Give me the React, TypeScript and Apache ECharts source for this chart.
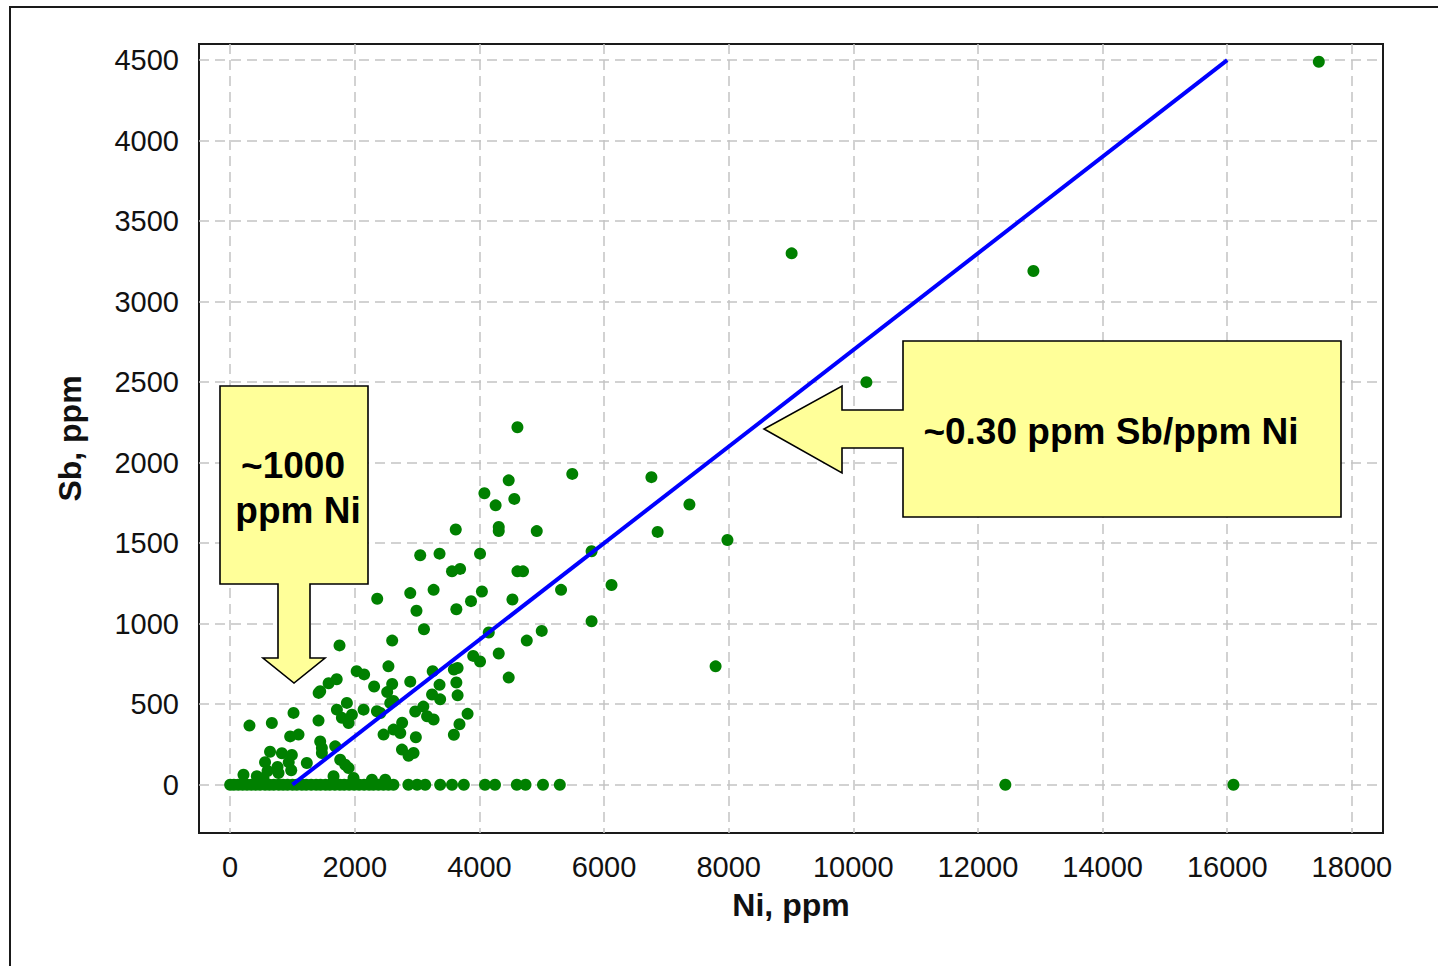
import React, { useEffect, useRef } from 'react';
import * as echarts from 'echarts';

// Tick values
const X_TICKS = [0, 2000, 4000, 6000, 8000, 10000, 12000, 14000, 16000, 18000];
const Y_TICKS = [0, 500, 1000, 1500, 2000, 2500, 3000, 3500, 4000, 4500];

// Samples with Sb at (or below) detection: Ni values, Sb = 0
const NI_AT_ZERO_SB = [
  0, 60, 130, 200, 270, 340, 410, 480, 560, 630, 700, 780, 850, 920, 1000, 1070,
  1150, 1220, 1300, 1380, 1450, 1530, 1600, 1680, 1760, 1830, 1910, 1990, 2070,
  2150, 2230, 2300, 2380, 2460, 2540, 2620, 2860, 3000, 3130, 3370, 3560, 3750,
  4090, 4250, 4600, 4740, 5020, 5290, 12440, 16100,
];

// Low-Sb samples (Ni, Sb)
const LOW_SAMPLES: [number, number][] = [
  [214, 62], [428, 52], [535, 42], [776, 73], [1659, 52], [1980, 42], [2275, 31], [2489, 31],
  [640, 205], [830, 195], [990, 185], [560, 140], [940, 140], [600, 85], [980, 90], [760, 110],
  [1230, 135], [1766, 155], [1846, 124], [1900, 104], [1445, 269], [1472, 228], [1472, 197],
  [1686, 238], [963, 300], [1097, 311], [310, 367], [669, 383], [1017, 446], [1418, 398],
  [1873, 508], [1713, 466], [1793, 415], [1900, 383], [1954, 435], [2141, 466], [2355, 456],
  [2569, 508], [2620, 520], [2760, 385], [2730, 321], [2622, 342], [2462, 311], [2980, 295],
  [2757, 218], [2863, 180], [2943, 197], [3590, 310], [3680, 375], [3810, 440], [3160, 425],
  [3265, 405], [2970, 455], [3100, 485], [2410, 445],
];

// Mid-Sb samples (Ni, Sb)
const MID_SAMPLES: [number, number][] = [
  [1710, 655], [1580, 630], [1445, 580], [1420, 570], [2030, 705], [2150, 685], [2310, 610],
  [2520, 575], [2600, 625], [2540, 735], [2890, 640], [3250, 705], [3590, 715], [3650, 725],
  [3360, 620], [3630, 635], [3240, 560], [3370, 530], [3650, 555], [1755, 865], [2600, 895],
  [3110, 965], [4150, 945], [5000, 955], [4760, 895], [4310, 815], [3900, 800], [4010, 765],
  [4470, 665], [7790, 735], [5800, 1015],
];

// High-Sb samples (Ni, Sb)
const HIGH_SAMPLES: [number, number][] = [
  [2360, 1155], [2990, 1080], [3630, 1090], [2890, 1190], [3265, 1210], [4040, 1200],
  [5310, 1210], [6120, 1240], [3865, 1140], [4530, 1150], [3560, 1325], [3690, 1340],
  [4610, 1325], [4700, 1325], [4010, 1435], [3050, 1425], [3360, 1435], [5800, 1450],
  [4310, 1600], [4310, 1575], [3620, 1585], [4920, 1575], [6860, 1570], [7980, 1520],
  [4470, 1890], [4080, 1810], [4560, 1775], [4260, 1735], [7370, 1740], [5490, 1930],
  [6760, 1910], [4610, 2220], [10210, 2500], [9010, 3300], [12890, 3190], [17470, 4490],
];

// Trend line: ~0.30 ppm Sb per ppm Ni, starting at ~1000 ppm Ni
const TREND: [number, number][] = [[1000, 0], [16000, 4500]];

const SCATTER_DATA: [number, number][] = [
  ...NI_AT_ZERO_SB.map((ni) => [ni, 0] as [number, number]),
  ...LOW_SAMPLES,
  ...MID_SAMPLES,
  ...HIGH_SAMPLES,
];

const TICK_FONT = 'Liberation Sans, Arial, sans-serif';

export default function App() {
  const ref = useRef<HTMLDivElement>(null);

  useEffect(() => {
    if (!ref.current) return;
    const chart = echarts.init(ref.current, undefined, { renderer: 'svg' });
    const yellow = '#ffff99';
    const calloutStroke = { stroke: '#000', lineWidth: 1.6, fill: yellow };
    const plain = (v: number) => String(v);
    chart.setOption({
      animation: false,
      backgroundColor: '#ffffff',
      grid: {
        left: 199,
        top: 44,
        width: 1184,
        height: 789,
        show: true,
        borderColor: '#1a1a1a',
        borderWidth: 2,
        backgroundColor: '#ffffff',
        outerBoundsMode: 'none',
        containLabel: false,
      },
      xAxis: {
        type: 'value',
        min: -500,
        max: 18500,
        name: 'Ni, ppm',
        nameLocation: 'middle',
        nameGap: 56,
        nameTextStyle: { fontFamily: TICK_FONT, fontWeight: 'bold', fontSize: 32, color: '#111' },
        axisLine: { show: false },
        axisTick: { show: false, customValues: X_TICKS },
        axisLabel: {
          customValues: X_TICKS,
          formatter: plain,
          margin: 19,
          fontFamily: TICK_FONT,
          fontSize: 29,
          color: '#111',
        },
        splitLine: {
          show: true,
          lineStyle: { color: '#c4c4c4', width: 1.5, type: [10, 6] },
        },
      },
      yAxis: {
        type: 'value',
        min: -300,
        max: 4600,
        name: 'Sb, ppm',
        nameLocation: 'middle',
        nameGap: 113,
        nameTextStyle: { fontFamily: TICK_FONT, fontWeight: 'bold', fontSize: 32, color: '#111' },
        axisLine: { show: false },
        axisTick: { show: false, customValues: Y_TICKS },
        axisLabel: {
          customValues: Y_TICKS,
          formatter: plain,
          margin: 20,
          fontFamily: TICK_FONT,
          fontSize: 29,
          color: '#111',
        },
        splitLine: {
          show: true,
          lineStyle: { color: '#c4c4c4', width: 1.5, type: [10, 6] },
        },
      },
      series: [
        {
          type: 'scatter',
          data: SCATTER_DATA,
          symbol: 'circle',
          symbolSize: 12,
          itemStyle: { color: '#008000', opacity: 1 },
          z: 2,
        },
        {
          type: 'line',
          data: TREND,
          symbol: 'none',
          lineStyle: { color: '#0000ff', width: 4 },
          z: 3,
        },
      ],
      graphic: [
        {
          type: 'rect',
          shape: { x: 10, y: 7, width: 1500, height: 1000 },
          style: { fill: 'none', stroke: '#1a1a1a', lineWidth: 2 },
          z: 0,
          silent: true,
        },
        {
          type: 'polygon',
          z: 100,
          shape: {
            points: [
              [220, 386], [368, 386], [368, 584], [310, 584], [310, 658], [325, 658],
              [294, 683], [263, 658], [278, 658], [278, 584], [220, 584],
            ],
          },
          style: calloutStroke,
        },
        {
          type: 'text',
          z: 101,
          x: 293,
          y: 465,
          style: {
            text: '~1000',
            font: `bold 37px ${TICK_FONT}`,
            fill: '#000',
            align: 'center',
            verticalAlign: 'middle',
          },
        },
        {
          type: 'text',
          z: 101,
          x: 298,
          y: 510,
          style: {
            text: 'ppm Ni',
            font: `bold 37px ${TICK_FONT}`,
            fill: '#000',
            align: 'center',
            verticalAlign: 'middle',
          },
        },
        {
          type: 'polygon',
          z: 100,
          shape: {
            points: [
              [903, 341], [1341, 341], [1341, 517], [903, 517], [903, 448], [842, 448],
              [842, 473], [764, 429], [842, 386], [842, 410], [903, 410],
            ],
          },
          style: calloutStroke,
        },
        {
          type: 'text',
          z: 101,
          x: 1111,
          y: 431,
          style: {
            text: '~0.30 ppm Sb/ppm Ni',
            font: `bold 37px ${TICK_FONT}`,
            fill: '#000',
            align: 'center',
            verticalAlign: 'middle',
          },
        },
      ],
    });
    return () => chart.dispose();
  }, []);

  return (
    <div
      ref={ref}
      style={{ position: 'absolute', left: 0, top: 0, width: 1438, height: 966, background: '#fff' }}
    />
  );
}
